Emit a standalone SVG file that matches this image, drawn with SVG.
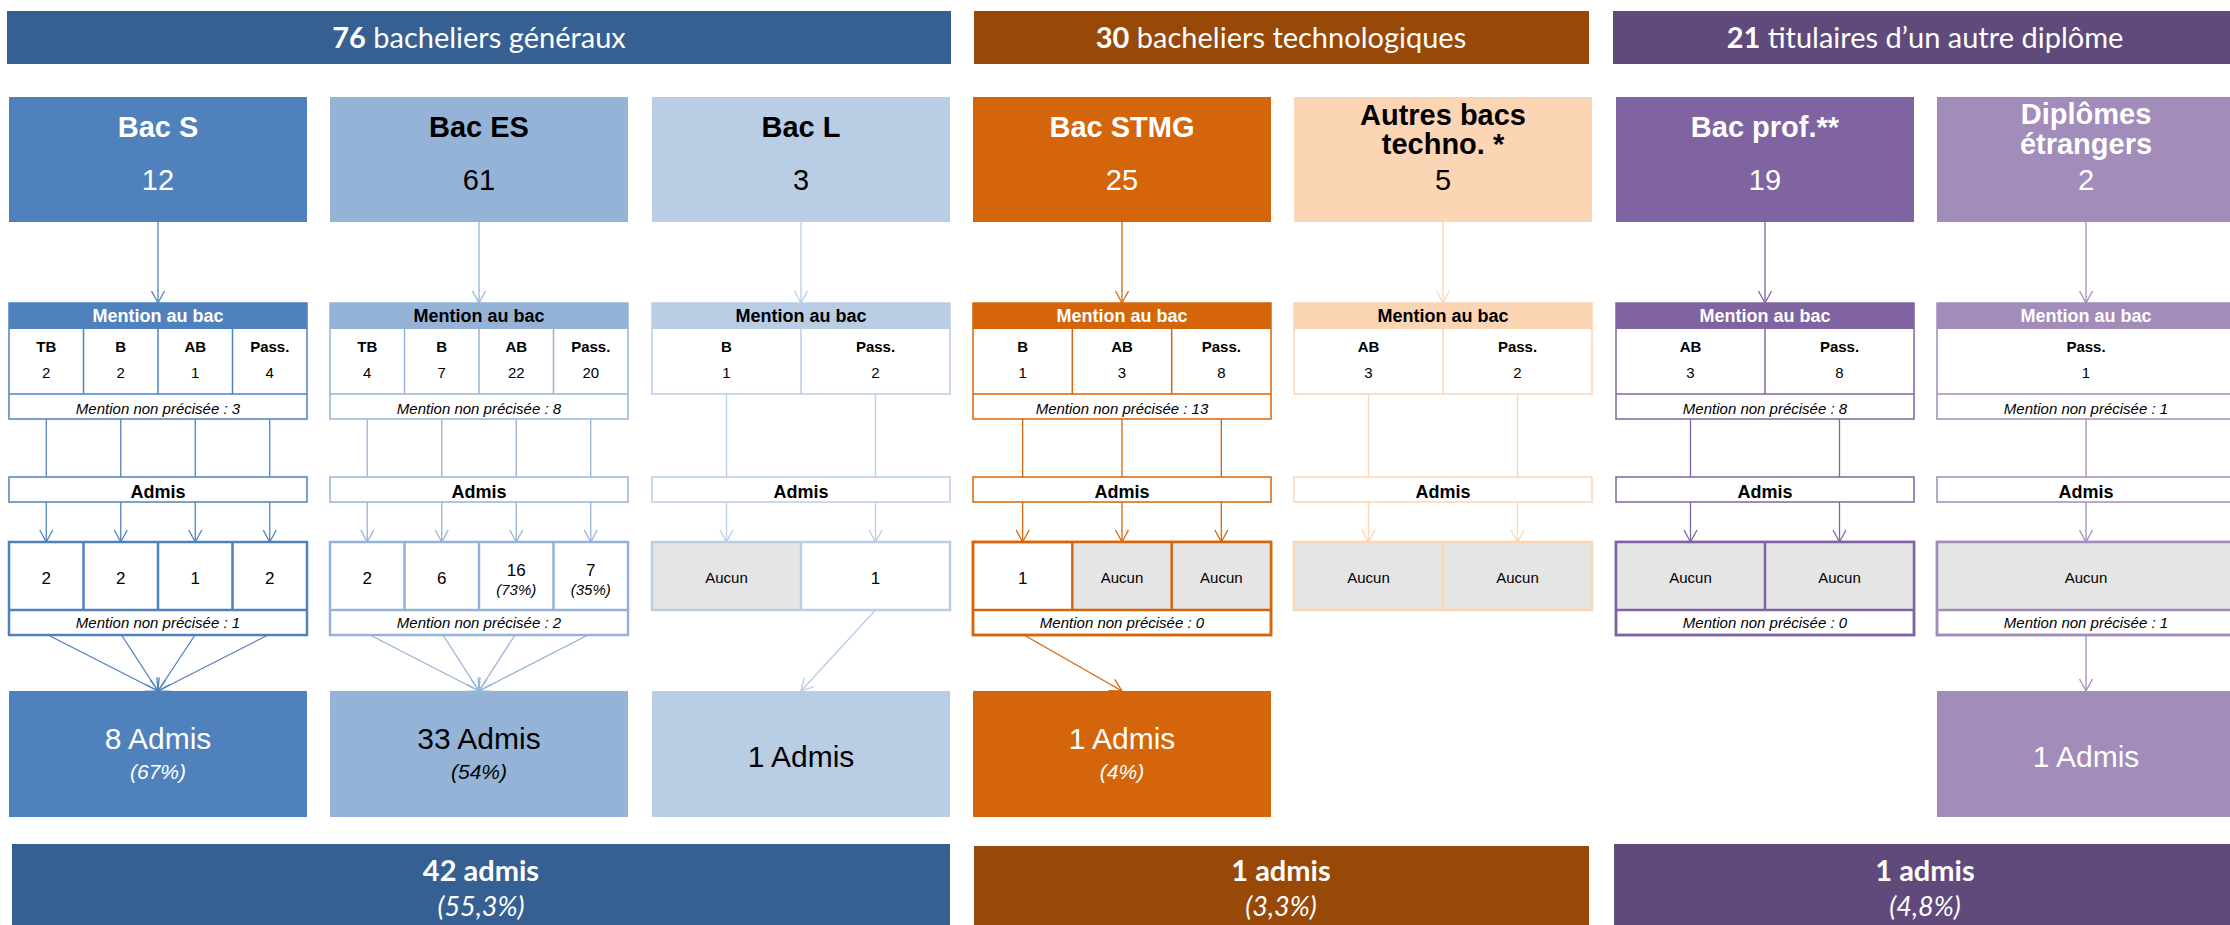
<svg xmlns="http://www.w3.org/2000/svg" width="2230" height="925" viewBox="0 0 2230 925">
<style>
text{font-family:"Liberation Sans",Arial,sans-serif;text-anchor:middle;fill:#000}
.w{fill:#fff}
.ban{font-family:Lato,"Open Sans",sans-serif;font-size:29px;fill:#fff}
.banb{font-family:Lato,"Open Sans",sans-serif;font-size:29px;font-weight:bold;fill:#fff}
.bani{font-family:Lato,"Open Sans",sans-serif;font-size:27px;font-style:italic;fill:#fff}
.ttl{font-size:29px;font-weight:bold}
.num{font-size:29px}
.mh{font-size:18px;font-weight:bold}
.lbl{font-size:15px;font-weight:bold}
.val{font-size:15px}
.mnp{font-size:15px;font-style:italic}
.adm{font-size:18px;font-weight:bold}
.res{font-size:17px}
.pct{font-size:15px;font-style:italic}
.auc{font-size:15px}
.big{font-size:30px}
.bigp{font-size:21px;font-style:italic}
.tb{fill:#fff;stroke-width:1.5}
.rb{fill:#fff;stroke-width:2.5}
.dv{stroke-width:1.5}
.rdv{stroke-width:2.5}
.gray{fill:#E5E5E5}
.cS{stroke:#4F81BD}.cES{stroke:#95B3D7}.cL{stroke:#B9CDE5}.cT{stroke:#D4650A}.cA{stroke:#FCD5B5}.cP{stroke:#8064A2}.cD{stroke:#A28CBA}
#connectors line{stroke-width:1.3;fill:none}
</style>
<defs>
<marker id="mS" markerUnits="userSpaceOnUse" markerWidth="14" markerHeight="16" refX="12" refY="7" orient="auto" overflow="visible"><path d="M0,0.5 L12,7 L0,13.5" fill="none" stroke="#4F81BD" stroke-width="1.3"/></marker>
<marker id="mES" markerUnits="userSpaceOnUse" markerWidth="14" markerHeight="16" refX="12" refY="7" orient="auto" overflow="visible"><path d="M0,0.5 L12,7 L0,13.5" fill="none" stroke="#95B3D7" stroke-width="1.3"/></marker>
<marker id="mL" markerUnits="userSpaceOnUse" markerWidth="14" markerHeight="16" refX="12" refY="7" orient="auto" overflow="visible"><path d="M0,0.5 L12,7 L0,13.5" fill="none" stroke="#B9CDE5" stroke-width="1.3"/></marker>
<marker id="mT" markerUnits="userSpaceOnUse" markerWidth="14" markerHeight="16" refX="12" refY="7" orient="auto" overflow="visible"><path d="M0,0.5 L12,7 L0,13.5" fill="none" stroke="#D4650A" stroke-width="1.3"/></marker>
<marker id="mA" markerUnits="userSpaceOnUse" markerWidth="14" markerHeight="16" refX="12" refY="7" orient="auto" overflow="visible"><path d="M0,0.5 L12,7 L0,13.5" fill="none" stroke="#FCD5B5" stroke-width="1.3"/></marker>
<marker id="mP" markerUnits="userSpaceOnUse" markerWidth="14" markerHeight="16" refX="12" refY="7" orient="auto" overflow="visible"><path d="M0,0.5 L12,7 L0,13.5" fill="none" stroke="#8064A2" stroke-width="1.3"/></marker>
<marker id="mD" markerUnits="userSpaceOnUse" markerWidth="14" markerHeight="16" refX="12" refY="7" orient="auto" overflow="visible"><path d="M0,0.5 L12,7 L0,13.5" fill="none" stroke="#A28CBA" stroke-width="1.3"/></marker>
</defs>
<rect width="2230" height="925" fill="#fff"/>

<!-- top banners -->
<g id="banner-generaux"><rect x="7" y="11" width="944" height="53" fill="#366092"/><text class="ban" x="479" y="48"><tspan font-weight="bold">76</tspan> bacheliers généraux</text></g>
<g id="banner-techno"><rect x="974" y="11" width="615" height="53" fill="#984807"/><text class="ban" x="1281" y="48"><tspan font-weight="bold">30</tspan> bacheliers technologiques</text></g>
<g id="banner-autre"><rect x="1613" y="11" width="623" height="53" fill="#604A7B"/><text class="ban" x="1925" y="48"><tspan font-weight="bold">21</tspan> titulaires d’un autre diplôme</text></g>

<!-- connectors -->
<g id="connectors">
<g class="cS">
<line x1="158" y1="222" x2="158" y2="303" marker-end="url(#mS)"/>
<line x1="46.25" y1="419" x2="46.25" y2="477"/><line x1="120.75" y1="419" x2="120.75" y2="477"/><line x1="195.25" y1="419" x2="195.25" y2="477"/><line x1="269.75" y1="419" x2="269.75" y2="477"/>
<line x1="46.25" y1="502" x2="46.25" y2="542" marker-end="url(#mS)"/><line x1="120.75" y1="502" x2="120.75" y2="542" marker-end="url(#mS)"/><line x1="195.25" y1="502" x2="195.25" y2="542" marker-end="url(#mS)"/><line x1="269.75" y1="502" x2="269.75" y2="542" marker-end="url(#mS)"/>
<line x1="48" y1="635" x2="158" y2="691" marker-end="url(#mS)"/><line x1="121.5" y1="635" x2="158" y2="691" marker-end="url(#mS)"/><line x1="195" y1="635" x2="158" y2="691" marker-end="url(#mS)"/><line x1="268" y1="635" x2="158" y2="691" marker-end="url(#mS)"/>
</g>
<g class="cES">
<line x1="479" y1="222" x2="479" y2="303" marker-end="url(#mES)"/>
<line x1="367.25" y1="419" x2="367.25" y2="477"/><line x1="441.75" y1="419" x2="441.75" y2="477"/><line x1="516.25" y1="419" x2="516.25" y2="477"/><line x1="590.75" y1="419" x2="590.75" y2="477"/>
<line x1="367.25" y1="502" x2="367.25" y2="542" marker-end="url(#mES)"/><line x1="441.75" y1="502" x2="441.75" y2="542" marker-end="url(#mES)"/><line x1="516.25" y1="502" x2="516.25" y2="542" marker-end="url(#mES)"/><line x1="590.75" y1="502" x2="590.75" y2="542" marker-end="url(#mES)"/>
<line x1="370" y1="635" x2="479" y2="691" marker-end="url(#mES)"/><line x1="443" y1="635" x2="479" y2="691" marker-end="url(#mES)"/><line x1="515" y1="635" x2="479" y2="691" marker-end="url(#mES)"/><line x1="588" y1="635" x2="479" y2="691" marker-end="url(#mES)"/>
</g>
<g class="cL">
<line x1="801" y1="222" x2="801" y2="303" marker-end="url(#mL)"/>
<line x1="726.5" y1="394" x2="726.5" y2="477"/><line x1="875.5" y1="394" x2="875.5" y2="477"/>
<line x1="726.5" y1="502" x2="726.5" y2="542" marker-end="url(#mL)"/><line x1="875.5" y1="502" x2="875.5" y2="542" marker-end="url(#mL)"/>
<line x1="875.5" y1="610" x2="801" y2="691" marker-end="url(#mL)"/>
</g>
<g class="cT">
<line x1="1122" y1="222" x2="1122" y2="303" marker-end="url(#mT)"/>
<line x1="1022.67" y1="419" x2="1022.67" y2="477"/><line x1="1122" y1="419" x2="1122" y2="477"/><line x1="1221.33" y1="419" x2="1221.33" y2="477"/>
<line x1="1022.67" y1="502" x2="1022.67" y2="542" marker-end="url(#mT)"/><line x1="1122" y1="502" x2="1122" y2="542" marker-end="url(#mT)"/><line x1="1221.33" y1="502" x2="1221.33" y2="542" marker-end="url(#mT)"/>
<line x1="1024" y1="635" x2="1122" y2="691" marker-end="url(#mT)"/>
</g>
<g class="cA">
<line x1="1443" y1="222" x2="1443" y2="303" marker-end="url(#mA)"/>
<line x1="1368.5" y1="394" x2="1368.5" y2="477"/><line x1="1517.5" y1="394" x2="1517.5" y2="477"/>
<line x1="1368.5" y1="502" x2="1368.5" y2="542" marker-end="url(#mA)"/><line x1="1517.5" y1="502" x2="1517.5" y2="542" marker-end="url(#mA)"/>
</g>
<g class="cP">
<line x1="1765" y1="222" x2="1765" y2="303" marker-end="url(#mP)"/>
<line x1="1690.5" y1="419" x2="1690.5" y2="477"/><line x1="1839.5" y1="419" x2="1839.5" y2="477"/>
<line x1="1690.5" y1="502" x2="1690.5" y2="542" marker-end="url(#mP)"/><line x1="1839.5" y1="502" x2="1839.5" y2="542" marker-end="url(#mP)"/>
</g>
<g class="cD">
<line x1="2086" y1="222" x2="2086" y2="303" marker-end="url(#mD)"/>
<line x1="2086" y1="419" x2="2086" y2="477"/>
<line x1="2086" y1="502" x2="2086" y2="542" marker-end="url(#mD)"/>
<line x1="2086" y1="635" x2="2086" y2="691" marker-end="url(#mD)"/>
</g>
</g>

<!-- ===== Bac S ===== -->
<g id="bac-s"><rect x="9" y="97" width="298" height="125" fill="#4F81BD"/><text class="ttl w" x="158" y="137">Bac S</text><text class="num w" x="158" y="190">12</text></g>
<g id="bac-s-mention">
<rect class="tb cS" x="9" y="303" width="298" height="116"/><rect x="9" y="303" width="298" height="26" fill="#4F81BD"/>
<line class="dv cS" x1="9" y1="394" x2="307" y2="394"/>
<line class="dv cS" x1="83.5" y1="329" x2="83.5" y2="394"/><line class="dv cS" x1="158" y1="329" x2="158" y2="394"/><line class="dv cS" x1="232.5" y1="329" x2="232.5" y2="394"/>
<text class="mh w" x="158" y="322">Mention au bac</text>
<text class="lbl" x="46.25" y="352">TB</text><text class="lbl" x="120.75" y="352">B</text><text class="lbl" x="195.25" y="352">AB</text><text class="lbl" x="269.75" y="352">Pass.</text>
<text class="val" x="46.25" y="378">2</text><text class="val" x="120.75" y="378">2</text><text class="val" x="195.25" y="378">1</text><text class="val" x="269.75" y="378">4</text>
<text class="mnp" x="158" y="414">Mention non précisée : 3</text>
</g>
<g id="bac-s-admis"><rect class="tb cS" x="9" y="477" width="298" height="25"/><text class="adm" x="158" y="498">Admis</text></g>
<g id="bac-s-result">
<rect class="rb cS" x="9" y="542" width="298" height="93"/>
<line class="rdv cS" x1="9" y1="610" x2="307" y2="610"/>
<line class="rdv cS" x1="83.5" y1="542" x2="83.5" y2="610"/><line class="rdv cS" x1="158" y1="542" x2="158" y2="610"/><line class="rdv cS" x1="232.5" y1="542" x2="232.5" y2="610"/>
<text class="res" x="46.25" y="584">2</text><text class="res" x="120.75" y="584">2</text><text class="res" x="195.25" y="584">1</text><text class="res" x="269.75" y="584">2</text>
<text class="mnp" x="158" y="628">Mention non précisée : 1</text>
</g>
<g id="bac-s-total"><rect x="9" y="691" width="298" height="126" fill="#4F81BD"/><text class="big w" x="158" y="749">8 Admis</text><text class="bigp w" x="158" y="779">(67%)</text></g>

<!-- ===== Bac ES ===== -->
<g id="bac-es"><rect x="330" y="97" width="298" height="125" fill="#95B3D7"/><text class="ttl" x="479" y="137">Bac ES</text><text class="num" x="479" y="190">61</text></g>
<g id="bac-es-mention">
<rect class="tb cES" x="330" y="303" width="298" height="116"/><rect x="330" y="303" width="298" height="26" fill="#95B3D7"/>
<line class="dv cES" x1="330" y1="394" x2="628" y2="394"/>
<line class="dv cES" x1="404.5" y1="329" x2="404.5" y2="394"/><line class="dv cES" x1="479" y1="329" x2="479" y2="394"/><line class="dv cES" x1="553.5" y1="329" x2="553.5" y2="394"/>
<text class="mh" x="479" y="322">Mention au bac</text>
<text class="lbl" x="367.25" y="352">TB</text><text class="lbl" x="441.75" y="352">B</text><text class="lbl" x="516.25" y="352">AB</text><text class="lbl" x="590.75" y="352">Pass.</text>
<text class="val" x="367.25" y="378">4</text><text class="val" x="441.75" y="378">7</text><text class="val" x="516.25" y="378">22</text><text class="val" x="590.75" y="378">20</text>
<text class="mnp" x="479" y="414">Mention non précisée : 8</text>
</g>
<g id="bac-es-admis"><rect class="tb cES" x="330" y="477" width="298" height="25"/><text class="adm" x="479" y="498">Admis</text></g>
<g id="bac-es-result">
<rect class="rb cES" x="330" y="542" width="298" height="93"/>
<line class="rdv cES" x1="330" y1="610" x2="628" y2="610"/>
<line class="rdv cES" x1="404.5" y1="542" x2="404.5" y2="610"/><line class="rdv cES" x1="479" y1="542" x2="479" y2="610"/><line class="rdv cES" x1="553.5" y1="542" x2="553.5" y2="610"/>
<text class="res" x="367.25" y="584">2</text><text class="res" x="441.75" y="584">6</text>
<text class="res" x="516.25" y="576">16</text><text class="pct" x="516.25" y="595">(73%)</text>
<text class="res" x="590.75" y="576">7</text><text class="pct" x="590.75" y="595">(35%)</text>
<text class="mnp" x="479" y="628">Mention non précisée : 2</text>
</g>
<g id="bac-es-total"><rect x="330" y="691" width="298" height="126" fill="#95B3D7"/><text class="big" x="479" y="749">33 Admis</text><text class="bigp" x="479" y="779">(54%)</text></g>

<!-- ===== Bac L ===== -->
<g id="bac-l"><rect x="652" y="97" width="298" height="125" fill="#B9CDE5"/><text class="ttl" x="801" y="137">Bac L</text><text class="num" x="801" y="190">3</text></g>
<g id="bac-l-mention">
<rect class="tb cL" x="652" y="303" width="298" height="91"/><rect x="652" y="303" width="298" height="26" fill="#B9CDE5"/>
<line class="dv cL" x1="801" y1="329" x2="801" y2="394"/>
<text class="mh" x="801" y="322">Mention au bac</text>
<text class="lbl" x="726.5" y="352">B</text><text class="lbl" x="875.5" y="352">Pass.</text>
<text class="val" x="726.5" y="378">1</text><text class="val" x="875.5" y="378">2</text>
</g>
<g id="bac-l-admis"><rect class="tb cL" x="652" y="477" width="298" height="25"/><text class="adm" x="801" y="498">Admis</text></g>
<g id="bac-l-result">
<rect class="gray" x="652" y="542" width="149" height="68"/>
<rect class="cL" x="652" y="542" width="298" height="68" fill="none" stroke-width="2.5"/>
<line class="rdv cL" x1="801" y1="542" x2="801" y2="610"/>
<text class="auc" x="726.5" y="583">Aucun</text><text class="res" x="875.5" y="584">1</text>
</g>
<g id="bac-l-total"><rect x="652" y="691" width="298" height="126" fill="#B9CDE5"/><text class="big" x="801" y="767">1 Admis</text></g>

<!-- ===== Bac STMG ===== -->
<g id="bac-stmg"><rect x="973" y="97" width="298" height="125" fill="#D4650A"/><text class="ttl w" x="1122" y="137">Bac STMG</text><text class="num w" x="1122" y="190">25</text></g>
<g id="bac-stmg-mention">
<rect class="tb cT" x="973" y="303" width="298" height="116"/><rect x="973" y="303" width="298" height="26" fill="#D4650A"/>
<line class="dv cT" x1="973" y1="394" x2="1271" y2="394"/>
<line class="dv cT" x1="1072.33" y1="329" x2="1072.33" y2="394"/><line class="dv cT" x1="1171.67" y1="329" x2="1171.67" y2="394"/>
<text class="mh w" x="1122" y="322">Mention au bac</text>
<text class="lbl" x="1022.67" y="352">B</text><text class="lbl" x="1122" y="352">AB</text><text class="lbl" x="1221.33" y="352">Pass.</text>
<text class="val" x="1022.67" y="378">1</text><text class="val" x="1122" y="378">3</text><text class="val" x="1221.33" y="378">8</text>
<text class="mnp" x="1122" y="414">Mention non précisée : 13</text>
</g>
<g id="bac-stmg-admis"><rect class="tb cT" x="973" y="477" width="298" height="25"/><text class="adm" x="1122" y="498">Admis</text></g>
<g id="bac-stmg-result">
<rect class="rb cT" x="973" y="542" width="298" height="93"/>
<rect class="gray" x="1072.33" y="542" width="198.67" height="68"/>
<line class="rdv cT" x1="973" y1="610" x2="1271" y2="610"/>
<line class="rdv cT" x1="1072.33" y1="542" x2="1072.33" y2="610"/><line class="rdv cT" x1="1171.67" y1="542" x2="1171.67" y2="610"/>
<rect class="cT" x="973" y="542" width="298" height="93" fill="none" stroke-width="2.5"/>
<text class="res" x="1022.67" y="584">1</text><text class="auc" x="1122" y="583">Aucun</text><text class="auc" x="1221.33" y="583">Aucun</text>
<text class="mnp" x="1122" y="628">Mention non précisée : 0</text>
</g>
<g id="bac-stmg-total"><rect x="973" y="691" width="298" height="126" fill="#D4650A"/><text class="big w" x="1122" y="749">1 Admis</text><text class="bigp w" x="1122" y="779">(4%)</text></g>

<!-- ===== Autres bacs techno ===== -->
<g id="autres-techno"><rect x="1294" y="97" width="298" height="125" fill="#FCD5B5"/><text class="ttl" x="1443" y="125">Autres bacs</text><text class="ttl" x="1443" y="154">techno. *</text><text class="num" x="1443" y="190">5</text></g>
<g id="autres-techno-mention">
<rect class="tb cA" x="1294" y="303" width="298" height="91"/><rect x="1294" y="303" width="298" height="26" fill="#FCD5B5"/>
<line class="dv cA" x1="1443" y1="329" x2="1443" y2="394"/>
<text class="mh" x="1443" y="322">Mention au bac</text>
<text class="lbl" x="1368.5" y="352">AB</text><text class="lbl" x="1517.5" y="352">Pass.</text>
<text class="val" x="1368.5" y="378">3</text><text class="val" x="1517.5" y="378">2</text>
</g>
<g id="autres-techno-admis"><rect class="tb cA" x="1294" y="477" width="298" height="25"/><text class="adm" x="1443" y="498">Admis</text></g>
<g id="autres-techno-result">
<rect class="gray" x="1294" y="542" width="298" height="68"/>
<rect class="cA" x="1294" y="542" width="298" height="68" fill="none" stroke-width="2.5"/>
<line class="rdv cA" x1="1443" y1="542" x2="1443" y2="610"/>
<text class="auc" x="1368.5" y="583">Aucun</text><text class="auc" x="1517.5" y="583">Aucun</text>
</g>

<!-- ===== Bac prof ===== -->
<g id="bac-prof"><rect x="1616" y="97" width="298" height="125" fill="#8064A2"/><text class="ttl w" x="1765" y="137">Bac prof.**</text><text class="num w" x="1765" y="190">19</text></g>
<g id="bac-prof-mention">
<rect class="tb cP" x="1616" y="303" width="298" height="116"/><rect x="1616" y="303" width="298" height="26" fill="#8064A2"/>
<line class="dv cP" x1="1616" y1="394" x2="1914" y2="394"/>
<line class="dv cP" x1="1765" y1="329" x2="1765" y2="394"/>
<text class="mh w" x="1765" y="322">Mention au bac</text>
<text class="lbl" x="1690.5" y="352">AB</text><text class="lbl" x="1839.5" y="352">Pass.</text>
<text class="val" x="1690.5" y="378">3</text><text class="val" x="1839.5" y="378">8</text>
<text class="mnp" x="1765" y="414">Mention non précisée : 8</text>
</g>
<g id="bac-prof-admis"><rect class="tb cP" x="1616" y="477" width="298" height="25"/><text class="adm" x="1765" y="498">Admis</text></g>
<g id="bac-prof-result">
<rect class="rb cP" x="1616" y="542" width="298" height="93"/>
<rect class="gray" x="1616" y="542" width="298" height="68"/>
<line class="rdv cP" x1="1616" y1="610" x2="1914" y2="610"/>
<line class="rdv cP" x1="1765" y1="542" x2="1765" y2="610"/>
<rect class="cP" x="1616" y="542" width="298" height="93" fill="none" stroke-width="2.5"/>
<text class="auc" x="1690.5" y="583">Aucun</text><text class="auc" x="1839.5" y="583">Aucun</text>
<text class="mnp" x="1765" y="628">Mention non précisée : 0</text>
</g>

<!-- ===== Diplômes étrangers ===== -->
<g id="diplomes-etrangers"><rect x="1937" y="97" width="298" height="125" fill="#A28CBA"/><text class="ttl w" x="2086" y="124">Diplômes</text><text class="ttl w" x="2086" y="154">étrangers</text><text class="num w" x="2086" y="190">2</text></g>
<g id="diplomes-etrangers-mention">
<rect class="tb cD" x="1937" y="303" width="298" height="116"/><rect x="1937" y="303" width="298" height="26" fill="#A28CBA"/>
<line class="dv cD" x1="1937" y1="394" x2="2235" y2="394"/>
<text class="mh w" x="2086" y="322">Mention au bac</text>
<text class="lbl" x="2086" y="352">Pass.</text>
<text class="val" x="2086" y="378">1</text>
<text class="mnp" x="2086" y="414">Mention non précisée : 1</text>
</g>
<g id="diplomes-etrangers-admis"><rect class="tb cD" x="1937" y="477" width="298" height="25"/><text class="adm" x="2086" y="498">Admis</text></g>
<g id="diplomes-etrangers-result">
<rect class="rb cD" x="1937" y="542" width="298" height="93"/>
<rect class="gray" x="1937" y="542" width="298" height="68"/>
<line class="rdv cD" x1="1937" y1="610" x2="2235" y2="610"/>
<rect class="cD" x="1937" y="542" width="298" height="93" fill="none" stroke-width="2.5"/>
<text class="auc" x="2086" y="583">Aucun</text>
<text class="mnp" x="2086" y="628">Mention non précisée : 1</text>
</g>
<g id="diplomes-etrangers-total"><rect x="1937" y="691" width="298" height="126" fill="#A28CBA"/><text class="big w" x="2086" y="767">1 Admis</text></g>

<!-- bottom banners -->
<g id="total-generaux"><rect x="12" y="844" width="938" height="90" fill="#366092"/><text class="banb" x="481" y="881">42 admis</text><text class="bani" x="481" y="916">(55,3%)</text></g>
<g id="total-techno"><rect x="974" y="846" width="615" height="90" fill="#984807"/><text class="banb" x="1281" y="881">1 admis</text><text class="bani" x="1281" y="916">(3,3%)</text></g>
<g id="total-autre"><rect x="1614" y="844" width="622" height="90" fill="#604A7B"/><text class="banb" x="1925" y="881">1 admis</text><text class="bani" x="1925" y="916">(4,8%)</text></g>
</svg>
